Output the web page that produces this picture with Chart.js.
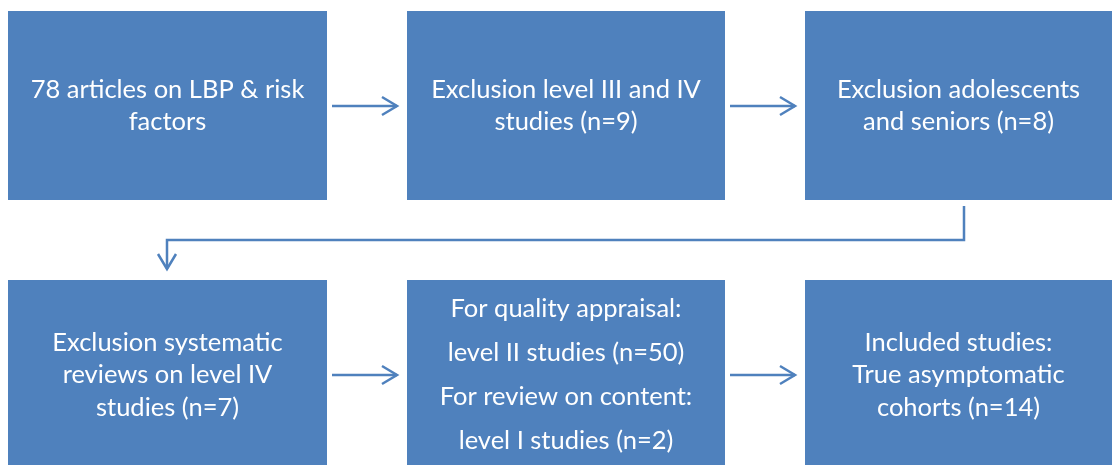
<!DOCTYPE html>
<html lang="en">
<head>
  <meta charset="UTF-8" />
  <title>LBP review flow</title>
  <script src="https://cdn.jsdelivr.net/npm/chart.js"></script>
  <style>
    body { margin: 0; background: #fff; }
    #wrap { width: 1112px; height: 465px; }
  </style>
</head>
<body>
  <div id="wrap"><canvas id="flow"></canvas></div>

  <script>
    // step texts, one entry per line
    const steps = [
      ['78 articles on LBP & risk', 'factors'],
      ['Exclusion level III and IV', 'studies (n=9)'],
      ['Exclusion adolescents', 'and seniors (n=8)'],
      ['Exclusion systematic', 'reviews on level IV', 'studies (n=7)'],
      ['For quality appraisal:', 'level II studies (n=50)', 'For review on content:', 'level I studies (n=2)'],
      ['Included studies:', 'True asymptomatic', 'cohorts (n=14)']
    ];
    // grid: column and row of each step
    const stepCol = [0, 1, 2, 0, 1, 2];
    const stepRow = [0, 0, 0, 1, 1, 1];
    // links between steps (from -> to)
    const links = [[0, 1], [1, 2], [2, 3], [3, 4], [4, 5]];

    const colLeft = [8, 407, 805], colRight = [327, 725, 1112];
    const rowTop = [11, 280], rowBottom = [200, 470];
    const textMid = [106, 375];
    const blue = '#4f81bd';

    function arrowHead(ctx, x, y, dir) {
      ctx.beginPath();
      if (dir === 'right') {
        ctx.moveTo(x - 15, y - 9); ctx.lineTo(x, y); ctx.lineTo(x - 15, y + 9);
      } else {
        ctx.moveTo(x - 9, y - 15); ctx.lineTo(x, y); ctx.lineTo(x + 9, y - 15);
      }
      ctx.stroke();
    }

    const flowPlugin = {
      id: 'flow',
      afterDraw(chart) {
        const ctx = chart.ctx, sx = chart.scales.x, sy = chart.scales.y;
        const px = v => sx.getPixelForValue(v), py = v => sy.getPixelForValue(v);
        ctx.save();
        steps.forEach((lines, i) => {
          const c = stepCol[i], r = stepRow[i];
          const x0 = px(colLeft[c]), x1 = px(colRight[c]);
          const y0 = py(rowTop[r]), y1 = py(rowBottom[r]);
          ctx.fillStyle = blue;
          ctx.fillRect(x0, y0, x1 - x0, y1 - y0);
          ctx.fillStyle = '#fff';
          ctx.font = '25.5px Lato, "Open Sans", sans-serif';
          ctx.textAlign = 'center';
          ctx.textBaseline = 'middle';
          const lh = lines.length === 4 ? 44 : 32.5;
          const mid = py(textMid[r]);
          lines.forEach((t, k) => {
            ctx.fillText(t, (x0 + x1) / 2, mid + (k - (lines.length - 1) / 2) * lh);
          });
        });

        ctx.strokeStyle = blue;
        ctx.lineWidth = 2.5;
        links.forEach(([a, b]) => {
          if (stepRow[a] === stepRow[b]) {
            const y = py(textMid[stepRow[a]]);
            const xs = px(colRight[stepCol[a]]) + 5, xe = px(colLeft[stepCol[b]]) - 10;
            ctx.beginPath(); ctx.moveTo(xs, y); ctx.lineTo(xe, y); ctx.stroke();
            arrowHead(ctx, xe, y, 'right');
          } else {
            const xa = px(964), xb = px(167);
            const ya = py(rowBottom[stepRow[a]]) + 6, ym = py(240), yb = py(rowTop[stepRow[b]]) - 11;
            ctx.beginPath();
            ctx.moveTo(xa, ya); ctx.lineTo(xa, ym); ctx.lineTo(xb, ym); ctx.lineTo(xb, yb);
            ctx.stroke();
            arrowHead(ctx, xb, yb, 'down');
          }
        });
        ctx.restore();
      }
    };

    new Chart(document.getElementById('flow'), {
      type: 'scatter',
      data: { datasets: [{ data: [] }] },
      options: {
        responsive: true,
        maintainAspectRatio: false,
        animation: false,
        layout: { padding: 0 },
        plugins: { legend: { display: false }, tooltip: { enabled: false } },
        scales: {
          x: { type: 'linear', min: 0, max: 1112, display: false },
          y: { type: 'linear', min: 0, max: 465, reverse: true, display: false }
        }
      },
      plugins: [flowPlugin]
    });
  </script>
</body>
</html>
